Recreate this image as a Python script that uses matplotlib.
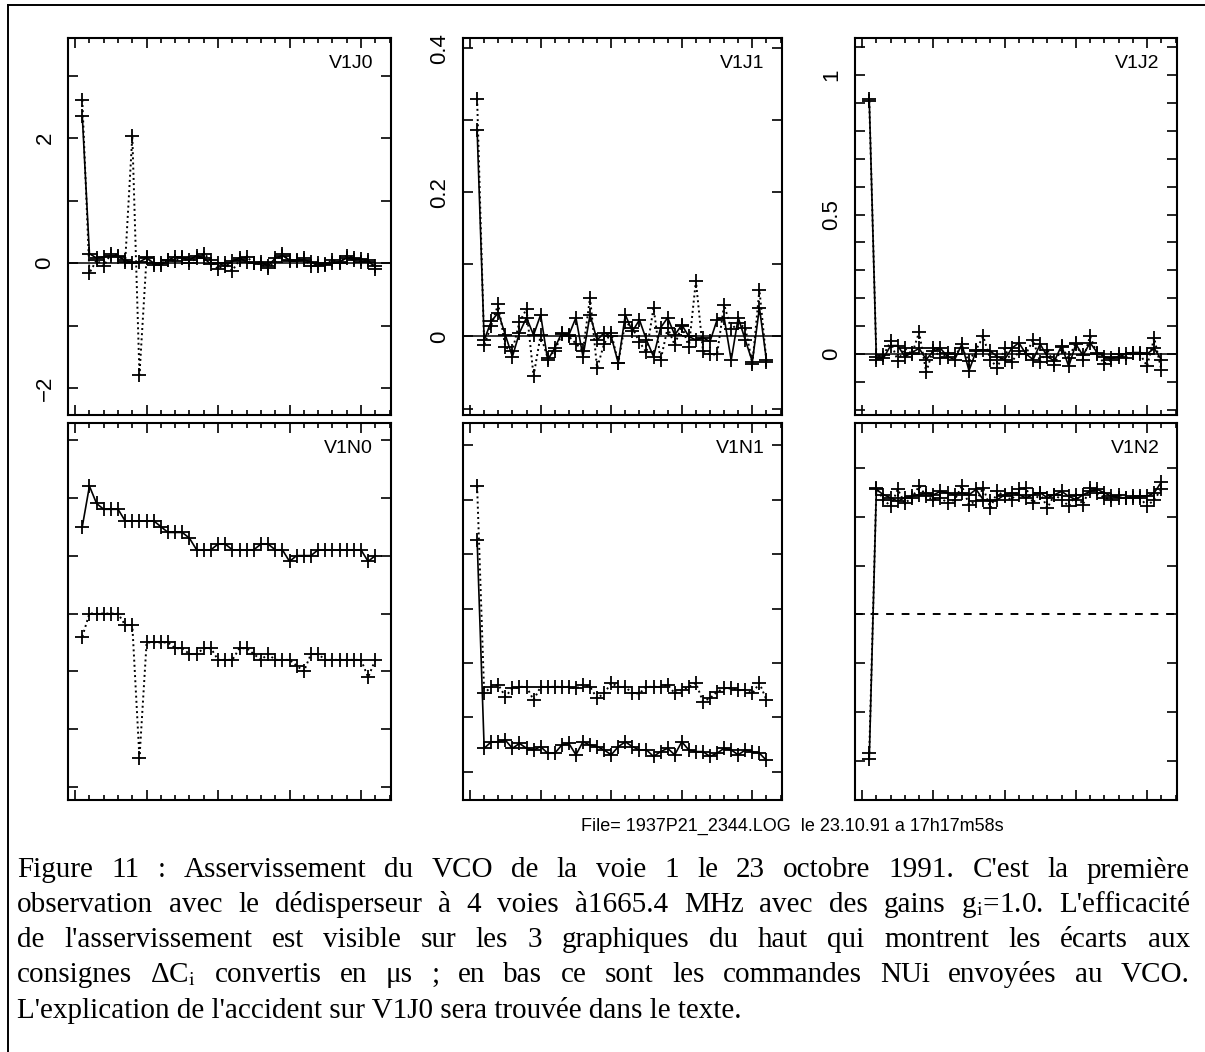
import numpy as np
import matplotlib
matplotlib.use("Agg")
import matplotlib.pyplot as plt
from matplotlib.ticker import MultipleLocator, NullFormatter, FuncFormatter
from matplotlib.lines import Line2D

plt.rcParams['font.family'] = ['Liberation Sans', 'DejaVu Sans']
plt.rcParams['mathtext.fontset'] = 'stix'

W, H = 1205, 1052

# sample index (42 records per channel)
idx = np.arange(1, 43)

# --- top row: deviations from set point (us) ---
v1j0_solid = [2.35, 0.15, 0.08, 0.10, 0.12, 0.10, 0.05, 0.00, 0.02, 0.08, 0.00, -0.03, 0.05, 0.10,
              0.08, 0.05, 0.12, 0.08, -0.02, 0.00, -0.05, 0.03, 0.08, 0.02, 0.00, 0.02, -0.05, 0.08,
              0.12, 0.05, 0.03, 0.05, 0.02, -0.05, -0.02, 0.00, 0.02, 0.08, 0.05, 0.07, 0.02, -0.05]
v1j0_dot = [2.61, -0.16, 0.05, -0.05, 0.15, 0.12, 0.02, 2.03, -1.79, 0.10, -0.03, 0.00, 0.05, 0.03,
            0.10, 0.00, 0.08, 0.15, 0.05, -0.10, 0.00, -0.12, 0.05, 0.10, 0.00, -0.02, -0.08, 0.02,
            0.15, 0.03, 0.05, 0.08, -0.05, 0.00, -0.03, 0.05, 0.00, 0.12, 0.08, 0.02, 0.05, -0.10]

v1j1_solid = [0.287, -0.005, 0.021, 0.033, 0.002, -0.028, 0.005, 0.026, 0.002, 0.030, -0.033, -0.016,
              0.005, 0.002, 0.026, -0.028, 0.030, -0.005, 0.005, 0.000, -0.037, 0.030, 0.007, 0.023,
              -0.005, -0.028, 0.012, 0.026, 0.002, 0.016, 0.000, -0.005, -0.002, -0.007, 0.023, 0.026,
              -0.033, 0.026, -0.005, -0.035, 0.040, -0.033]
v1j1_dot = [0.330, -0.012, 0.015, 0.045, -0.015, -0.020, 0.020, 0.038, -0.055, 0.002, -0.030, -0.020,
            0.003, 0.000, -0.010, -0.020, 0.054, -0.044, -0.010, 0.005, -0.037, 0.020, 0.012, -0.008,
            -0.022, 0.040, -0.033, 0.012, -0.012, 0.015, -0.015, 0.077, -0.020, -0.025, -0.025, 0.044,
            0.010, 0.018, 0.012, -0.038, 0.065, -0.035]

v1j2_solid = [0.913, -0.020, -0.015, 0.030, 0.030, -0.010, 0.005, 0.020, -0.020, 0.010, 0.020, -0.010,
              -0.020, 0.035, -0.060, 0.010, 0.015, 0.010, -0.010, -0.020, 0.020, 0.040, 0.000, -0.020,
              0.035, -0.010, -0.025, 0.030, -0.045, 0.035, -0.005, 0.040, 0.005, -0.010, -0.015, -0.010,
              0.000, 0.005, 0.005, 0.000, 0.020, -0.020]
v1j2_dot = [0.907, -0.010, -0.005, 0.045, -0.025, 0.020, 0.000, 0.078, -0.066, 0.020, -0.015, 0.005,
            0.000, 0.020, -0.025, 0.015, 0.063, -0.020, -0.050, 0.020, -0.030, 0.010, 0.000, 0.050,
            -0.030, 0.015, -0.040, 0.025, -0.015, 0.040, -0.020, 0.063, 0.000, -0.035, -0.020, 0.000,
            -0.015, 0.005, 0.000, -0.044, 0.057, -0.056]

# --- bottom row: NU commands sent to the VCO (arbitrary units) ---
v1n0_solid = [45, 52, 49, 48, 48, 48, 46, 46, 46, 46, 46, 45, 44, 44, 44, 43, 41, 41, 41, 42, 42,
              41, 41, 41, 41, 42, 42, 41, 41, 39, 40, 40, 40, 41, 41, 41, 41, 41, 41, 41, 39, 40]
v1n0_dot = [26, 30, 30, 30, 30, 30, 28, 28, 5, 25, 25, 25, 25, 24, 24, 23, 23, 24, 24, 22, 22,
            22, 24, 24, 23, 22, 23, 22, 22, 22, 21, 20, 23, 23, 22, 22, 22, 22, 22, 22, 19, 22]

v1n1_solid = [42.6, 4.3, 5.5, 5.5, 5.8, 4.3, 5.2, 4.3, 4.0, 4.6, 3.4, 3.4, 4.9, 5.2, 3.1, 5.5, 4.9,
              4.6, 4.0, 3.1, 4.6, 5.5, 4.6, 4.0, 4.0, 2.8, 3.7, 4.3, 3.1, 5.5, 4.0, 3.7, 3.7, 2.8,
              3.4, 4.3, 4.0, 3.1, 4.0, 3.7, 3.4, 2.1]
v1n1_dot = [52.5, 14.4, 15.6, 16.0, 13.8, 15.3, 15.6, 15.6, 13.2, 15.6, 15.6, 15.6, 15.6, 15.6, 15.3,
            16.0, 15.6, 13.5, 14.4, 16.3, 15.6, 15.6, 14.4, 14.4, 15.6, 15.6, 15.6, 16.0, 14.4, 15.0,
            15.6, 16.3, 12.9, 13.5, 14.7, 15.3, 15.3, 15.0, 15.0, 14.4, 16.3, 13.2]

v1n2_solid = [0.3, 55.6, 54.5, 53.9, 53.2, 53.9, 54.2, 54.5, 54.9, 54.5, 55.2, 54.9, 54.5, 54.9, 54.5,
              55.6, 53.5, 53.2, 53.5, 54.5, 54.9, 54.5, 53.9, 54.5, 54.9, 53.9, 54.5, 55.2, 54.2, 53.5,
              54.5, 55.2, 55.6, 54.9, 54.2, 53.9, 53.9, 53.9, 54.2, 54.2, 54.9, 57.1]
v1n2_dot = [1.6, 55.9, 53.5, 52.2, 55.6, 52.8, 53.9, 56.3, 54.2, 53.5, 53.9, 52.8, 53.5, 56.3, 52.5,
            53.2, 55.9, 51.8, 55.2, 54.2, 53.5, 55.6, 55.9, 52.8, 54.9, 51.8, 54.5, 53.5, 52.2, 54.5,
            52.5, 55.9, 54.9, 53.9, 53.5, 54.5, 53.9, 54.2, 53.9, 52.2, 53.5, 55.6]
v1n2_ref = 30

panel_names = ["V1J0", "V1J1", "V1J2", "V1N0", "V1N1", "V1N2"]
solid_series = [v1j0_solid, v1j1_solid, v1j2_solid, v1n0_solid, v1n1_solid, v1n2_solid]
dot_series = [v1j0_dot, v1j1_dot, v1j2_dot, v1n0_dot, v1n1_dot, v1n2_dot]
ylims = [(-2.43, 3.6), (-0.109, 0.414), (-0.219, 1.133), (-2.2, 62.9), (-5.2, 64.1), (-8.0, 69.2)]
# (major, minor) y tick steps; bottom row has no labels
ysteps = [(2, 1), (0.2, 0.1), (0.5, 0.1), (10, 10), (10, 10), (10, 10)]

file_line = "File= 1937P21_2344.LOG  le 23.10.91 a 17h17m58s"
caption = [
    "Figure 11 : Asservissement du VCO de la voie 1 le 23 octobre 1991. C'est la première",
    "observation avec le dédisperseur à 4 voies à1665.4 MHz avec des gains g$_\\mathrm{i}$=1.0. L'efficacité",
    "de l'asservissement est visible sur les 3 graphiques du haut qui montrent les écarts aux",
    "consignes ΔC$_\\mathrm{i}$ convertis en μs ; en bas ce sont les commandes NUi envoyées au VCO.",
    "L'explication de l'accident sur V1J0 sera trouvée dans le texte.",
]

fig = plt.figure(figsize=(W / 100, H / 100), dpi=100)

col_px = [(68, 391), (463, 782), (855, 1177)]
row_px = [(38, 415), (423, 800)]

for k in range(6):
    r, c = divmod(k, 3)
    x0, x1 = col_px[c]
    y0, y1 = row_px[r]
    ax = fig.add_axes([x0 / W, 1 - y1 / H, (x1 - x0) / W, (y1 - y0) / H])
    ax.plot(idx, solid_series[k], color='k', lw=1.2, ls='-', marker='+', ms=10, mew=1.3)
    ax.plot(idx, dot_series[k], color='k', lw=1.4, ls=':', marker='+', ms=10, mew=1.3)
    if r == 0:
        ax.axhline(0, color='k', lw=1.1)
    if k == 5:
        ax.axhline(v1n2_ref, color='k', lw=1.4, ls=(0, (4, 4)))
    ax.set_xlim(-1, 44.2)
    ax.set_ylim(*ylims[k])
    ax.xaxis.set_major_locator(MultipleLocator(10))
    ax.xaxis.set_minor_locator(MultipleLocator(2))
    ax.yaxis.set_major_locator(MultipleLocator(ysteps[k][0]))
    ax.yaxis.set_minor_locator(MultipleLocator(ysteps[k][1]))
    ax.xaxis.set_major_formatter(NullFormatter())
    if r == 1:
        ax.yaxis.set_major_formatter(NullFormatter())
    else:
        ax.yaxis.set_major_formatter(FuncFormatter(lambda v, p: ('%g' % round(v, 6)).replace('-', '\u2212')))
    ax.tick_params(which='both', direction='in', top=True, right=True, width=1.2, colors='k')
    ax.tick_params(axis='x', which='major', length=7)
    ax.tick_params(axis='x', which='minor', length=3.5)
    ax.tick_params(axis='y', which='both', length=7)
    ax.tick_params(axis='y', which='major', labelsize=16, pad=9, labelrotation=90)
    for lab in ax.get_yticklabels():
        lab.set_va('center')
    for sp in ax.spines.values():
        sp.set_linewidth(1.5)
    ax.text(0.945, 0.955, panel_names[k], transform=ax.transAxes, ha='right', va='top', fontsize=14)

# header text under the middle panel
fig.text(792 / W, 1 - 826 / H, file_line, ha='center', va='center', fontsize=13,
         family=['Liberation Sans Narrow', 'Liberation Sans', 'DejaVu Sans'])

# scan frame (top and left edges)
fig.add_artist(Line2D([8 / W, 8 / W], [0, 1 - 5 / H], transform=fig.transFigure, color='k', lw=1.4))
fig.add_artist(Line2D([8 / W, 1], [1 - 5 / H, 1 - 5 / H], transform=fig.transFigure, color='k', lw=1.4))

# justified caption
cap_left, cap_right = 17, 1190
cap_y = [870, 905, 940, 975, 1010]
cap_size = 21
fig.canvas.draw()
rend = fig.canvas.get_renderer()
for n, line in enumerate(caption):
    y = 1 - cap_y[n] / H
    if n == len(caption) - 1:
        fig.text(cap_left / W, y, line, ha='left', va='center', fontsize=cap_size, family='Liberation Serif')
        continue
    words = line.split(' ')
    texts = [fig.text(0, y, w, ha='left', va='center', fontsize=cap_size, family='Liberation Serif')
             for w in words]
    widths = [t.get_window_extent(rend).width for t in texts]
    gap = (cap_right - cap_left - sum(widths)) / (len(words) - 1)
    xpos = cap_left
    for t, wd in zip(texts, widths):
        t.set_x(xpos / W)
        xpos += wd + gap

fig.savefig("out.png", dpi=100)
